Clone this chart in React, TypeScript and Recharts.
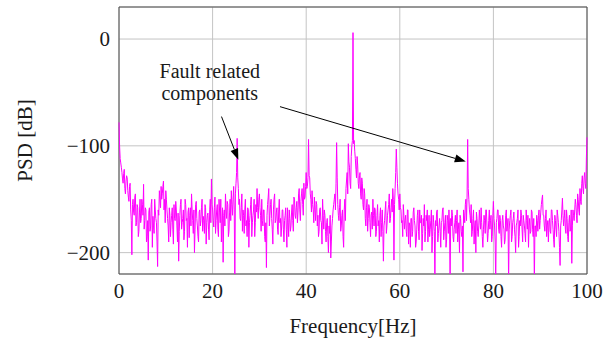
import React from "react";
import {
  LineChart,
  Line,
  XAxis,
  YAxis,
  CartesianGrid,
  ReferenceLine,
  ReferenceDot,
  ReferenceArea,
} from "recharts";

// spectrum bins: main values every 0.25 Hz, mid values 0.125 Hz after each
const freqStep = 0.25;

const psd0to10 = [
  -78, -112, -120, -131, -126, -140, -133, -130, -148, -138,
  -160, -202, -150, -165, -145, -172, -158, -180, -150, -168,
  -155, -136, -170, -160, -185, -207, -158, -176, -150, -166,
  -182, -160, -172, -213, -165, -150, -138, -145, -133, -150,
];
const psd10to20 = [
  -142, -160, -175, -158, -185, -165, -178, -155, -170, -160,
  -190, -208, -165, -150, -172, -160, -180, -155, -168, -162,
  -186, -158, -145, -170, -160, -178, -152, -175, -190, -160,
  -170, -150, -166, -182, -158, -172, -163, -188, -150, -131,
];
const psd20to30 = [
  -160, -176, -148, -170, -155, -185, -162, -150, -172, -209,
  -160, -145, -168, -155, -180, -150, -142, -165, -138, -230,
  -135, -93, -140, -150, -170, -145, -160, -182, -150, -170,
  -158, -195, -165, -148, -172, -160, -185, -155, -140, -168,
];
const psd30to40 = [
  -145, -165, -150, -175, -160, -190, -214, -155, -140, -165,
  -150, -178, -160, -145, -170, -158, -183, -150, -168, -176,
  -160, -190, -165, -178, -158, -185, -168, -175, -155, -180,
  -150, -168, -152, -162, -140, -170, -145, -155, -135, -148,
];
const psd40to50 = [
  -125, -138, -94, -130, -150, -142, -160, -148, -170, -155,
  -165, -180, -158, -172, -150, -178, -165, -190, -168, -200,
  -182, -205, -175, -160, -150, -160, -97, -155, -170, -150,
  -175, -160, -195, -150, -140, -125, -98, -120, -140, -100,
];
const psd50to60 = [
  6, -95, -112, -130, -118, -140, -125, -150, -135, -160,
  -145, -175, -150, -168, -158, -185, -162, -150, -175, -160,
  -180, -155, -170, -165, -185, -160, -208, -170, -152, -175,
  -160, -145, -168, -150, -140, -207, -140, -103, -135, -150,
];
const psd60to70 = [
  -145, -160, -170, -155, -178, -165, -185, -160, -172, -195,
  -168, -180, -158, -175, -190, -165, -180, -160, -172, -198,
  -168, -155, -180, -170, -190, -165, -178, -160, -185, -172,
  -230, -175, -160, -182, -168, -195, -170, -158, -180, -165,
];
const psd70to80 = [
  -188, -170, -160, -230, -175, -165, -190, -172, -182, -160,
  -178, -200, -168, -185, -218, -165, -155, -170, -94, -150,
  -165, -155, -180, -160, -175, -200, -168, -185, -160, -178,
  -172, -195, -165, -182, -160, -190, -170, -178, -165, -185,
];
const psd80to90 = [
  -152, -175, -230, -168, -160, -182, -170, -195, -165, -178,
  -188, -160, -175, -230, -170, -160, -185, -168, -178, -200,
  -172, -160, -185, -175, -165, -190, -170, -182, -160, -178,
  -195, -168, -180, -162, -185, -230, -175, -165, -180, -160,
];
const psd90to100 = [
  -170, -155, -146, -165, -180, -160, -175, -190, -168, -182,
  -160, -178, -195, -170, -185, -165, -180, -212, -170, -149,
  -175, -160, -182, -168, -190, -165, -178, -210, -160, -170,
  -150, -165, -145, -160, -140, -155, -128, -145, -125, -140,
  -92,
];

const psdMid0to10 = [
  -100, -116, -125, -135, -122, -145, -128, -142, -152, -135,
  -170, -155, -162, -148, -175, -155, -185, -162, -172, -150,
  -165, -178, -158, -190, -170, -162, -180, -155, -195, -175,
  -150, -168, -190, -160, -142, -158, -150, -138, -160, -172,
];
const psdMid10to20 = [
  -150, -168, -190, -165, -172, -158, -192, -168, -152, -175,
  -163, -180, -155, -178, -168, -188, -150, -170, -195, -158,
  -165, -175, -160, -182, -200, -155, -168, -185, -162, -175,
  -158, -180, -170, -155, -192, -165, -178, -160, -172, -155,
];
const psdMid20to30 = [
  -170, -158, -182, -160, -178, -150, -172, -190, -158, -165,
  -175, -160, -152, -185, -162, -170, -155, -150, -160, -145,
  -125, -130, -155, -168, -158, -180, -165, -160, -175, -185,
  -160, -172, -155, -185, -165, -150, -172, -162, -158, -150,
];
const psdMid30to40 = [
  -158, -180, -170, -160, -185, -172, -165, -148, -175, -155,
  -168, -192, -150, -172, -162, -178, -160, -172, -185, -160,
  -178, -170, -158, -195, -172, -160, -180, -162, -170, -148,
  -165, -158, -172, -145, -160, -152, -140, -165, -150, -138,
];
const psdMid40to50 = [
  -140, -130, -128, -145, -162, -155, -172, -160, -152, -175,
  -185, -160, -170, -192, -165, -160, -180, -172, -185, -175,
  -165, -190, -168, -155, -145, -135, -130, -165, -158, -180,
  -165, -185, -160, -170, -132, -145, -115, -135, -110, -95,
];
const psdMid50to60 = [
  -98, -105, -122, -110, -135, -128, -145, -130, -155, -140,
  -168, -158, -180, -155, -172, -165, -178, -165, -158, -185,
  -165, -175, -190, -158, -172, -180, -175, -160, -182, -165,
  -155, -172, -158, -162, -150, -155, -125, -120, -145, -160,
];
const psdMid60to70 = [
  -158, -172, -185, -165, -170, -180, -160, -192, -175, -168,
  -185, -162, -170, -195, -178, -160, -188, -172, -165, -182,
  -175, -190, -165, -160, -178, -185, -170, -200, -165, -180,
  -170, -162, -190, -175, -180, -172, -160, -188, -172, -195,
];
const psdMid70to80 = [
  -165, -182, -175, -168, -160, -185, -178, -165, -170, -190,
  -172, -165, -180, -175, -160, -172, -150, -148, -140, -160,
  -172, -185, -168, -192, -170, -162, -180, -175, -170, -158,
  -185, -178, -170, -160, -175, -182, -160, -170, -190, -165,
];
const psdMid80to90 = [
  -168, -190, -172, -160, -178, -165, -185, -170, -175, -192,
  -165, -180, -168, -178, -165, -190, -172, -162, -185, -175,
  -168, -195, -170, -160, -178, -165, -175, -190, -170, -165,
  -175, -182, -160, -178, -168, -175, -185, -170, -165, -178,
];
const psdMid90to100 = [
  -162, -150, -165, -175, -168, -185, -170, -172, -180, -160,
  -170, -188, -165, -178, -160, -172, -195, -175, -160, -165,
  -168, -178, -160, -185, -172, -180, -160, -175, -165, -160,
  -155, -172, -150, -165, -152, -135, -140, -130, -135, -110,
];

const psdMain = [
  ...psd0to10, ...psd10to20, ...psd20to30, ...psd30to40, ...psd40to50,
  ...psd50to60, ...psd60to70, ...psd70to80, ...psd80to90, ...psd90to100,
];
const psdMid = [
  ...psdMid0to10, ...psdMid10to20, ...psdMid20to30, ...psdMid30to40, ...psdMid40to50,
  ...psdMid50to60, ...psdMid60to70, ...psdMid70to80, ...psdMid80to90, ...psdMid90to100,
];

const xTicks = [0, 20, 40, 60, 80, 100];
const yTicks = [-200, -100, 0];

const annotationLines = ["Fault related", "components"];
const annotationAnchor = { freq: 19.4, db: -32 };
const arrowStarts = [{ freq: 21.9, db: -72.6 }, { freq: 34.4, db: -63.3 }];
const arrowTips = [{ freq: 25.5, db: -113 }, { freq: 74.1, db: -114.7 }];

const data: { freq: number; psd: number }[] = [];
psdMain.forEach((psd, i) => {
  data.push({ freq: i * freqStep, psd });
  if (i < psdMid.length) data.push({ freq: i * freqStep + freqStep / 2, psd: psdMid[i] });
});

const serif = '"Liberation Serif", "Times New Roman", serif';
const textColor = "#1a1a1a";

const fmtTick = (v: number) => String(v).replace("-", "\u2212");

const ArrowShape = (props: any) => {
  const { x1, y1, x2, y2 } = props;
  const ang = Math.atan2(y2 - y1, x2 - x1);
  const len = 11;
  const half = 4;
  const bx = x2 - len * Math.cos(ang);
  const by = y2 - len * Math.sin(ang);
  const p1 = `${bx + half * Math.sin(ang)},${by - half * Math.cos(ang)}`;
  const p2 = `${bx - half * Math.sin(ang)},${by + half * Math.cos(ang)}`;
  return (
    <g>
      <line x1={x1} y1={y1} x2={bx} y2={by} stroke="#000" strokeWidth={1} />
      <polygon points={`${x2},${y2} ${p1} ${p2}`} fill="#000" />
    </g>
  );
};

const AnnotationText = (props: any) => {
  const { cx, cy } = props;
  return (
    <g>
      {annotationLines.map((t, i) => (
        <text
          key={t}
          x={cx}
          y={cy + 5 + i * 22}
          textAnchor="middle"
          fontFamily={serif}
          fontSize={20}
          fill={textColor}
        >
          {t}
        </text>
      ))}
    </g>
  );
};

const XLabel = (props: any) => {
  const { viewBox } = props;
  return (
    <text
      x={viewBox.x + viewBox.width / 2}
      y={333}
      textAnchor="middle"
      fontFamily={serif}
      fontSize={21}
      fill={textColor}
    >
      Frequency[Hz]
    </text>
  );
};

const YLabel = (props: any) => {
  const { viewBox } = props;
  const cy = viewBox.y + viewBox.height / 2;
  return (
    <text
      x={32}
      y={cy}
      transform={`rotate(-90, 32, ${cy})`}
      textAnchor="middle"
      fontFamily={serif}
      fontSize={21}
      fill={textColor}
    >
      PSD [dB]
    </text>
  );
};

export default function App() {
  return (
    <div style={{ position: "absolute", left: 0, top: 0, background: "#fff" }}>
      <LineChart
        width={616}
        height={343}
        data={data}
        margin={{ top: 7, right: 29, left: 49, bottom: 9 }}
      >
        <CartesianGrid stroke="#c4c4c4" strokeWidth={1} />
        <XAxis
          dataKey="freq"
          type="number"
          domain={[0, 100]}
          ticks={xTicks}
          height={60}
          tickSize={0}
          tickMargin={9}
          axisLine={false}
          tick={{ fontFamily: serif, fontSize: 21, fill: textColor }}
          label={<XLabel />}
        />
        <YAxis
          type="number"
          domain={[-220, 30]}
          ticks={yTicks}
          allowDataOverflow
          width={70}
          tickSize={0}
          tickMargin={9}
          axisLine={false}
          tickFormatter={fmtTick}
          tick={{ fontFamily: serif, fontSize: 21, fill: textColor }}
          label={<YLabel />}
        />
        <Line
          type="linear"
          dataKey="psd"
          stroke="#ff00ff"
          strokeWidth={1}
          dot={false}
          activeDot={false}
          isAnimationActive={false}
        />
        <ReferenceArea
          x1={0}
          x2={100}
          y1={-220}
          y2={30}
          fill="none"
          stroke="#4d4d4d"
          strokeWidth={1}
          ifOverflow="visible"
        />
        {arrowStarts.map((s, i) => (
          <ReferenceLine
            key={i}
            segment={[
              { x: s.freq, y: s.db },
              { x: arrowTips[i].freq, y: arrowTips[i].db },
            ]}
            ifOverflow="visible"
            shape={ArrowShape}
          />
        ))}
        <ReferenceDot
          x={annotationAnchor.freq}
          y={annotationAnchor.db}
          r={0}
          ifOverflow="visible"
          shape={AnnotationText}
        />
      </LineChart>
    </div>
  );
}
